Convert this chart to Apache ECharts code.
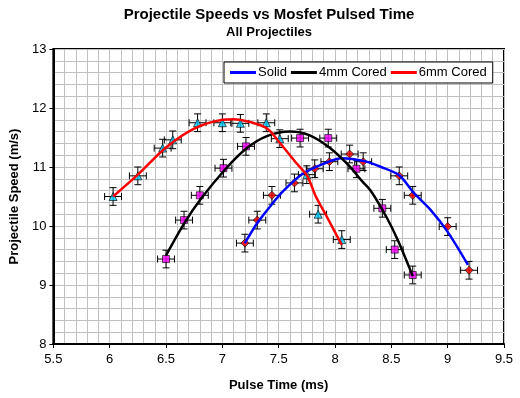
<!DOCTYPE html>
<html>
<head>
<meta charset="utf-8">
<script src="https://cdn.jsdelivr.net/npm/echarts@6/dist/echarts.min.js"></script>
<style>
	body{margin:0;background:#fff;}
	#main{width:520px;height:398px;}
</style>
</head>
<body>
<div id="main"></div>
<script>
	// measured points (pulse time ms, speed m/s)
	var solidX = [7.2, 7.31, 7.44, 7.64, 7.82, 7.95, 8.13, 8.25, 8.57, 8.69, 9.0, 9.19];
	var solidY = [9.71, 10.1, 10.52, 10.73, 10.97, 11.09, 11.22, 11.09, 10.85, 10.52, 9.99, 9.25];
	var cored4X = [6.5, 6.66, 6.8, 7.01, 7.21, 7.69, 7.94, 8.19, 8.42, 8.53, 8.69];
	var cored4Y = [9.44, 10.1, 10.52, 10.98, 11.35, 11.49, 11.49, 10.97, 10.3, 9.6, 9.17];
	var cored6X = [6.03, 6.25, 6.47, 6.56, 6.78, 7.0, 7.16, 7.39, 7.51, 7.75, 7.85, 8.06];
	var cored6Y = [10.5, 10.85, 11.32, 11.46, 11.75, 11.75, 11.74, 11.75, 11.48, 10.87, 10.2, 9.77];
	var errX = 0.075;
	var errY = 0.15;

	// trend curves
	var solidFitX = [7.2, 7.31, 7.44, 7.54, 7.71, 7.89, 8.06, 8.26, 8.41, 8.57, 8.7, 8.85, 9.0, 9.18];
	var solidFitY = [9.71, 10.05, 10.37, 10.59, 10.88, 11.05, 11.15, 11.1, 11.0, 10.86, 10.56, 10.27, 9.9, 9.34];
	var cored4FitX = [6.5, 6.66, 6.81, 7.03, 7.21, 7.39, 7.6, 7.77, 7.95, 8.12, 8.24, 8.32, 8.46, 8.56, 8.69];
	var cored4FitY = [9.5, 10.04, 10.46, 10.97, 11.31, 11.52, 11.6, 11.54, 11.33, 11.03, 10.76, 10.59, 10.14, 9.75, 9.15];
	var cored6FitX = [6.03, 6.25, 6.5, 6.75, 7.0, 7.1, 7.25, 7.4, 7.51, 7.65, 7.75, 7.83, 7.91, 8.06];
	var cored6FitY = [10.5, 10.87, 11.33, 11.65, 11.8, 11.81, 11.76, 11.65, 11.41, 11.08, 10.86, 10.5, 10.22, 9.68];

	function pairs(xs, ys){
		var out = [];
		for (var i = 0; i < xs.length; i++) out.push([xs[i], ys[i]]);
		return out;
	}

	var font = 'Arial, "Liberation Sans", sans-serif';

	function errorBars(xs, ys){
		return {
			type: 'custom',
			z: 2,
			silent: true,
			data: pairs(xs, ys),
			renderItem: function(params, api){
				var x = api.value(0), y = api.value(1);
				var l = api.coord([x - errX, y]), r = api.coord([x + errX, y]);
				var t = api.coord([x, y + errY]), b = api.coord([x, y - errY]);
				var c = 3.5;
				var st = {stroke: '#000', lineWidth: 1};
				return {
					type: 'group',
					children: [
						{type: 'line', shape: {x1: l[0], y1: l[1], x2: r[0], y2: r[1]}, style: st},
						{type: 'line', shape: {x1: l[0], y1: l[1] - c, x2: l[0], y2: l[1] + c}, style: st},
						{type: 'line', shape: {x1: r[0], y1: r[1] - c, x2: r[0], y2: r[1] + c}, style: st},
						{type: 'line', shape: {x1: t[0], y1: t[1], x2: b[0], y2: b[1]}, style: st},
						{type: 'line', shape: {x1: t[0] - c, y1: t[1], x2: t[0] + c, y2: t[1]}, style: st},
						{type: 'line', shape: {x1: b[0] - c, y1: b[1], x2: b[0] + c, y2: b[1]}, style: st}
					]
				};
			}
		};
	}

	function markers(xs, ys, symbol, color, size){
		return {
			type: 'scatter',
			z: 3,
			data: pairs(xs, ys),
			symbol: symbol,
			symbolSize: size,
			itemStyle: {color: color, borderColor: '#000', borderWidth: 0.8}
		};
	}

	function fit(name, xs, ys, color){
		return {
			name: name,
			type: 'line',
			z: 4,
			smooth: 0.3,
			symbol: 'none',
			data: pairs(xs, ys),
			lineStyle: {color: color, width: 2.5},
			itemStyle: {color: color}
		};
	}

	var myChart = echarts.init(document.getElementById('main'));
	var option = {
		backgroundColor: '#fff',
		animation: false,
		title: [{
			text: 'Projectile Speeds vs Mosfet Pulsed Time',
			left: 264, top: 2, textAlign: 'center',
			textStyle: {fontFamily: font, fontSize: 15, fontWeight: 'bold', color: '#000'}
		},{
			text: 'All Projectiles',
			left: 264, top: 21, textAlign: 'center',
			textStyle: {fontFamily: font, fontSize: 13, fontWeight: 'bold', color: '#000'}
		}],
		legend: {
			left: 224, top: 62,
			data: ['Solid', '4mm Cored', '6mm Cored'],
			icon: 'rect',
			itemWidth: 26, itemHeight: 3,
			itemGap: 4,
			padding: [4, 6],
			backgroundColor: '#fff',
			borderColor: '#000', borderWidth: 1,
			textStyle: {fontFamily: font, fontSize: 13, color: '#000', padding: [0, 0, 0, -3]}
		},
		grid: {left: 48, right: 16, top: 49, bottom: 54, show: true, borderColor: '#000', borderWidth: 2, backgroundColor: '#fff'},
		xAxis: {
			type: 'value', min: 5.5, max: 9.5, interval: 0.5,
			name: 'Pulse Time (ms)', nameLocation: 'middle', nameGap: 35,
			nameTextStyle: {fontFamily: font, fontSize: 13, fontWeight: 'bold', color: '#000'},
			axisLine: {lineStyle: {color: '#000', width: 2}},
			axisTick: {show: true, length: 4, lineStyle: {color: '#000'}},
			axisLabel: {fontFamily: font, fontSize: 13, color: '#000', margin: 9},
			splitLine: {show: true, lineStyle: {color: '#c0c0c0', width: 1}},
			minorTick: {show: false, splitNumber: 5},
			minorSplitLine: {show: true, lineStyle: {color: '#c0c0c0', width: 1}}
		},
		yAxis: {
			type: 'value', min: 8, max: 13, interval: 1,
			name: 'Projectile Speed (m/s)', nameLocation: 'middle', nameGap: 32,
			nameTextStyle: {fontFamily: font, fontSize: 13, fontWeight: 'bold', color: '#000'},
			axisLine: {show: true, lineStyle: {color: '#000', width: 2}},
			axisTick: {show: true, length: 4, lineStyle: {color: '#000'}},
			axisLabel: {fontFamily: font, fontSize: 13, color: '#000', margin: 7},
			splitLine: {show: true, lineStyle: {color: '#c0c0c0', width: 1}},
			minorTick: {show: false, splitNumber: 5},
			minorSplitLine: {show: true, lineStyle: {color: '#c0c0c0', width: 1}}
		},
		series: [
			errorBars(solidX, solidY),
			errorBars(cored4X, cored4Y),
			errorBars(cored6X, cored6Y),
			markers(solidX, solidY, 'diamond', '#ff0000', 8),
			markers(cored4X, cored4Y, 'rect', '#ff00ff', 7),
			markers(cored6X, cored6Y, 'triangle', '#00ccff', 8),
			fit('Solid', solidFitX, solidFitY, '#0000ff'),
			fit('4mm Cored', cored4FitX, cored4FitY, '#000000'),
			fit('6mm Cored', cored6FitX, cored6FitY, '#ff0000')
		]
	};
	myChart.setOption(option);
</script>
</body>
</html>
